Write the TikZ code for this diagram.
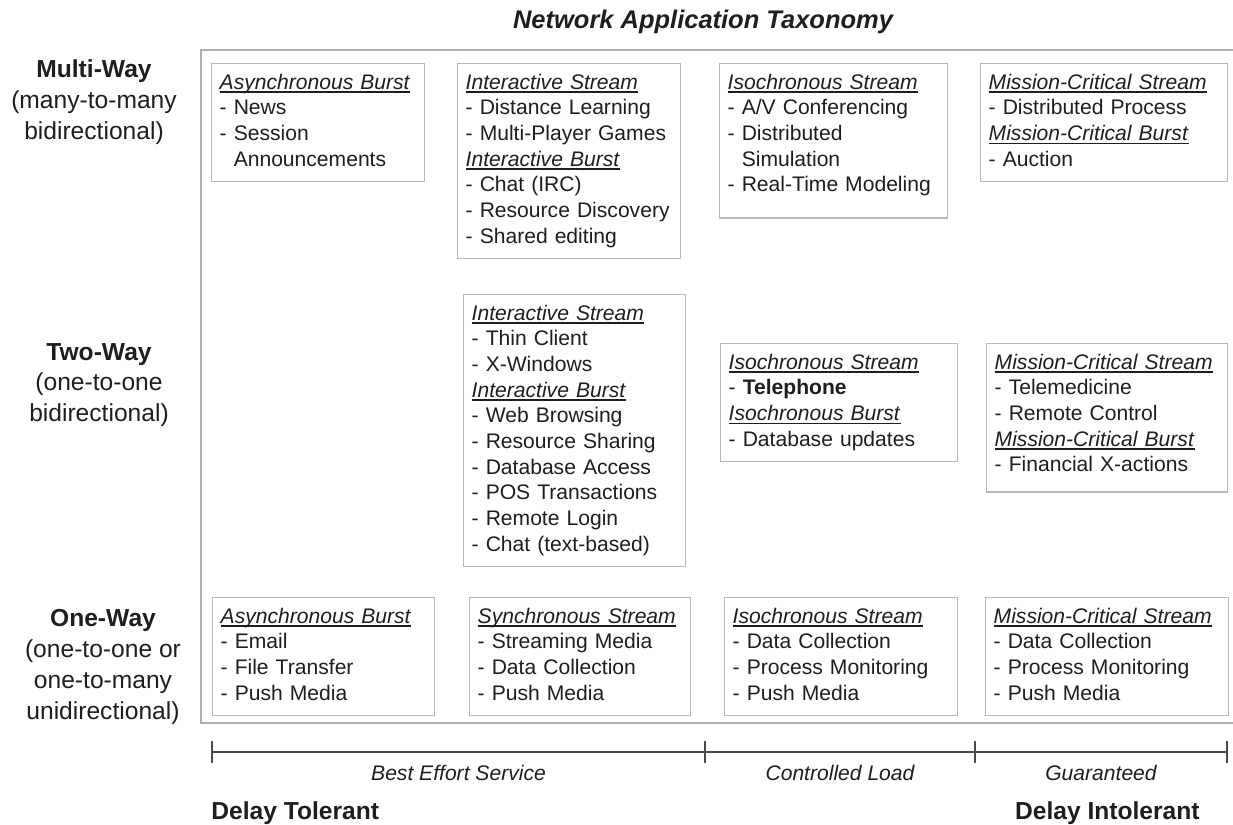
\documentclass[tikz,border=0pt]{standalone}
\usepackage{fontspec}
\setmainfont{Liberation Sans}
\usepackage{tikz}
\usetikzlibrary{positioning}
\definecolor{bordo}{HTML}{B8B8B8}
\definecolor{cornice}{HTML}{AFAFAF}
\definecolor{asse}{HTML}{4A4A4A}
\definecolor{inchiostro}{HTML}{1E1E1E}
\newcommand{\testo}{\fontsize{12}{14.6}\selectfont}
\newcommand{\etichetta}{\fontsize{14}{17.5}\selectfont}
\newsavebox{\tipobox}
\newcommand{\tipo}[1]{\leavevmode\sbox{\tipobox}{\textit{#1}}\rlap{\rule[-2pt]{\wd\tipobox}{0.7pt}}\usebox{\tipobox}}
\newcommand{\fondo}[1]{\rule[-#1]{0pt}{0pt}}
\tikzstyle{classe} = [rectangle, draw=bordo, line width=0.8pt, anchor=north west, align=left,
inner xsep=0.16cm, inner ysep=0.15cm, font=\testo, text=inchiostro,
execute at begin node=\strut, execute at end node=\strut]
\tikzstyle{modo} = [align=center, font=\etichetta, text=inchiostro]
\tikzstyle{scala} = [line width=1.3pt, draw=asse]
\tikzstyle{servizio} = [midway, below=3.5pt, font=\testo\itshape, text=inchiostro]
\tikzstyle{ritardo} = [inner sep=0pt, font=\etichetta\bfseries, text=inchiostro]

\begin{document}
\begin{tikzpicture}
	\useasboundingbox (0,0) rectangle (24.66,-16.48);
	\node (titolo) at (14.06,-0.44) [font=\fontsize{14.5}{17}\selectfont\bfseries\itshape, text=inchiostro] {Network Application Taxonomy};
	\draw[cornice, line width=1.2pt] (24.66,-1.0) -- (4.02,-1.0) -- (4.02,-14.46) -- (24.66,-14.46);
	
	\node (m1) at (1.88,-2.04) [modo] {\textbf{Multi-Way}\\(many-to-many\\bidirectional)};
	\node (m2) at (1.98,-7.70) [modo] {\textbf{Two-Way}\\(one-to-one\\bidirectional)};
	\node (m3) at (2.06,-13.34) [modo] {\textbf{One-Way}\\(one-to-one or\\one-to-many\\unidirectional)};
	
	\node (c11) at (4.22,-1.26) [classe, text width=3.94cm] {\tipo{Asynchronous Burst}\\- News\\- Session\\\phantom{- }Announcements};
	\node (c12) at (9.14,-1.26) [classe, text width=4.14cm] {\tipo{Interactive Stream}\\- Distance Learning\\- Multi-Player Games\\\tipo{Interactive Burst}\\- Chat (IRC)\\- Resource Discovery\\- Shared editing};
	\node (c13) at (14.38,-1.26) [classe, text width=4.24cm] {\tipo{Isochronous Stream}\\- A/V Conferencing\\- Distributed\\\phantom{- }Simulation\\- Real-Time Modeling\fondo{10.7pt}};
	\node (c14) at (19.60,-1.26) [classe, text width=4.62cm] {\tipo{Mission-Critical Stream}\\- Distributed Process\\\tipo{Mission-Critical Burst}\\- Auction};
	
	\node (c22) at (9.26,-5.88) [classe, text width=4.12cm] {\tipo{Interactive Stream}\\- Thin Client\\- X-Windows\\\tipo{Interactive Burst}\\- Web Browsing\\- Resource Sharing\\- Database Access\\- POS Transactions\\- Remote Login\\- Chat (text-based)};
	\node (c23) at (14.40,-6.86) [classe, text width=4.42cm] {\tipo{Isochronous Stream}\\- \textbf{Telephone}\\\tipo{Isochronous Burst}\\- Database updates};
	\node (c24) at (19.72,-6.86) [classe, text width=4.50cm] {\tipo{Mission-Critical Stream}\\- Telemedicine\\- Remote Control\\\tipo{Mission-Critical Burst}\\- Financial X-actions\fondo{7.2pt}};
	
	\node (c31) at (4.24,-11.94) [classe, text width=4.12cm] {\tipo{Asynchronous Burst}\\- Email\\- File Transfer\\- Push Media};
	\node (c32) at (9.38,-11.94) [classe, text width=4.10cm] {\tipo{Synchronous Stream}\\- Streaming Media\\- Data Collection\\- Push Media};
	\node (c33) at (14.48,-11.94) [classe, text width=4.34cm] {\tipo{Isochronous Stream}\\- Data Collection\\- Process Monitoring\\- Push Media};
	\node (c34) at (19.70,-11.94) [classe, text width=4.54cm] {\tipo{Mission-Critical Stream}\\- Data Collection\\- Process Monitoring\\- Push Media};
	
	\coordinate (s0) at (4.24,-15.04);
	\coordinate (s1) at (14.10,-15.04);
	\coordinate (s2) at (19.50,-15.04);
	\coordinate (s3) at (24.54,-15.04);
	\draw[scala] (s0) -- (s1) node[servizio] {Best Effort Service};
	\draw[scala] (s1) -- (s2) node[servizio] {Controlled Load};
	\draw[scala] (s2) -- (s3) node[servizio] {Guaranteed};
	\foreach \s in {s0,s1,s2,s3}
		\draw[scala, line width=0.9pt] ([yshift=6pt]\s) -- ([yshift=-6pt]\s);
	
	\node (lento) at (4.22,-16.26) [ritardo, anchor=west] {Delay Tolerant};
	\node (rapido) at (24.00,-16.26) [ritardo, anchor=east] {Delay Intolerant};
\end{tikzpicture}
\end{document}
